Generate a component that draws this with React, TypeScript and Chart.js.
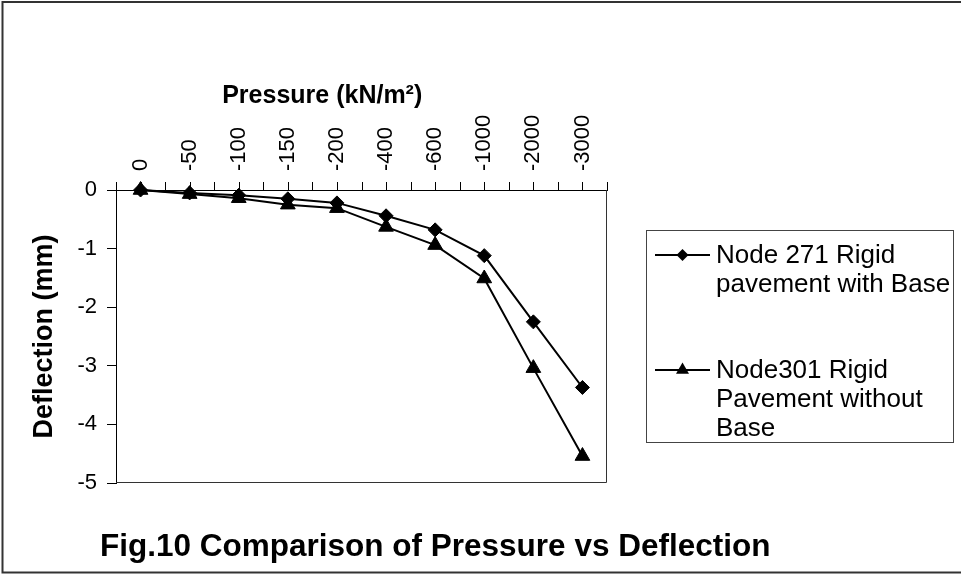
import { useEffect, useRef } from 'react';
import { Chart, registerables } from 'chart.js';

Chart.register(...registerables);

const pressures = ['0', '-50', '-100', '-150', '-200', '-400', '-600', '-1000', '-2000', '-3000'];
const node271 = [0, -0.05, -0.09, -0.15, -0.22, -0.44, -0.68, -1.12, -2.25, -3.37];
const node301 = [0, -0.07, -0.14, -0.25, -0.31, -0.63, -0.94, -1.51, -3.04, -4.54];
const legendLines = [
  ['Node 271 Rigid', 'pavement with Base'],
  ['Node301 Rigid', 'Pavement without', 'Base'],
];
const pointStyles = ['rectRot', 'triangle'];
const xTitle = 'Pressure (kN/m²)';
const yTitle = 'Deflection (mm)';
const figTitle = 'Fig.10 Comparison of Pressure vs Deflection';

const FONT = "'Liberation Sans', Arial, sans-serif";
const X_TICK_SIZE = 22;

function drawMarker(ctx: CanvasRenderingContext2D, style: string, x: number, y: number, r: number) {
  ctx.beginPath();
  if (style === 'rectRot') {
    ctx.moveTo(x, y - r);
    ctx.lineTo(x + r, y);
    ctx.lineTo(x, y + r);
    ctx.lineTo(x - r, y);
  } else {
    for (let k = 0; k < 3; k++) {
      const a = (k * 2 * Math.PI) / 3;
      const px = x + Math.sin(a) * r;
      const py = y - Math.cos(a) * r;
      if (k === 0) ctx.moveTo(px, py);
      else ctx.lineTo(px, py);
    }
  }
  ctx.closePath();
  ctx.fillStyle = '#000';
  ctx.fill();
}

const decor = {
  id: 'decor',
  beforeDatasetsDraw(chart: any) {
    const { ctx, chartArea: a } = chart;
    const xs = chart.scales.x;
    ctx.save();
    ctx.strokeStyle = '#333';
    ctx.lineWidth = 1;
    ctx.beginPath();
    ctx.moveTo(a.right - 0.5, a.top);
    ctx.lineTo(a.right - 0.5, a.bottom - 0.5);
    ctx.lineTo(a.left, a.bottom - 0.5);
    ctx.stroke();
    // top-axis tick marks at every category centre and boundary
    ctx.strokeStyle = '#000';
    ctx.beginPath();
    for (let v = xs.min; v <= xs.max + 1e-9; v += 0.5) {
      const px = Math.round(xs.getPixelForValue(v)) + 0.5;
      ctx.moveTo(px, a.top - 8);
      ctx.lineTo(px, a.top);
    }
    ctx.stroke();
    ctx.restore();
  },
  afterDraw(chart: any) {
    const { ctx, chartArea: a } = chart;
    ctx.save();
    // outer frame
    ctx.strokeStyle = '#333';
    ctx.lineWidth = 2;
    ctx.strokeRect(2.5, 2, 1000, 570.5);

    // x axis title
    ctx.fillStyle = '#000';
    ctx.font = `bold 25px ${FONT}`;
    ctx.textAlign = 'center';
    ctx.textBaseline = 'alphabetic';
    ctx.fillText(xTitle, a.left + (a.right - a.left) * 0.42, 103);

    // figure caption
    ctx.font = `bold 31.5px ${FONT}`;
    ctx.textAlign = 'left';
    ctx.fillText(figTitle, 100, 556);

    // legend
    const bx = 646.5, by = 230.5, bw = 307, bh = 212;
    ctx.strokeStyle = '#444';
    ctx.lineWidth = 1;
    ctx.strokeRect(bx, by, bw, bh);
    ctx.font = `26px ${FONT}`;
    const firstBaselines = [263, 378];
    const lh = 29;
    legendLines.forEach((lines, i) => {
      const base = firstBaselines[i];
      const my = base - 8;
      ctx.strokeStyle = '#000';
      ctx.lineWidth = 2;
      ctx.beginPath();
      ctx.moveTo(655, my);
      ctx.lineTo(710, my);
      ctx.stroke();
      drawMarker(ctx, pointStyles[i], 682.5, my, i === 0 ? 6 : 7.5);
      ctx.fillStyle = '#000';
      lines.forEach((t, j) => ctx.fillText(t, 716, base + j * lh));
    });
    ctx.restore();
  },
};

export default function App() {
  const ref = useRef<HTMLCanvasElement | null>(null);
  useEffect(() => {
    if (!ref.current) return;
    const mk = (vals: number[], i: number) => ({
      label: legendLines[i].join(' '),
      data: vals.map((y, k) => ({ x: k, y })),
      borderColor: '#000',
      backgroundColor: '#000',
      borderWidth: 2,
      pointStyle: pointStyles[i],
      pointRadius: i === 0 ? 7 : 8.5,
      pointBorderWidth: 1,
      pointBackgroundColor: '#000',
      tension: 0,
      clip: false as any,
    });
    const chart = new Chart(ref.current, {
      type: 'line',
      data: { datasets: [mk(node271, 0), mk(node301, 1)] as any },
      options: {
        responsive: false,
        animation: false,
        devicePixelRatio: 1,
        layout: { padding: { left: 0, top: 0, right: 354, bottom: 92 } },
        plugins: { legend: { display: false }, tooltip: { enabled: false }, title: { display: false } },
        scales: {
          x: {
            type: 'linear',
            position: 'top',
            min: -0.5,
            max: 9.5,
            afterFit: (s: any) => { s.height = 190; },
            afterBuildTicks: (s: any) => {
              s.ticks = pressures.map((_, i) => ({ value: i }));
            },
            ticks: {
              autoSkip: false,
              maxRotation: 90,
              minRotation: 90,
              padding: 19,
              labelOffset: (X_TICK_SIZE * 1.2),
              color: '#000',
              font: { family: FONT, size: X_TICK_SIZE },
              callback: (v: any) => pressures[Math.round(v)],
            },
            grid: { drawOnChartArea: false, drawTicks: false, tickLength: 8, color: '#000', lineWidth: 1 },
            border: { display: true, color: '#000', width: 1 },
          },
          y: {
            min: -5,
            max: 0,
            afterFit: (s: any) => { s.width = 116; },
            ticks: { stepSize: 1, padding: 10, color: '#000', font: { family: FONT, size: 22 } },
            grid: { drawOnChartArea: false, tickLength: 9, color: '#000', lineWidth: 1 },
            border: { display: true, color: '#000', width: 1 },
            title: {
              display: true,
              text: yTitle,
              color: '#000',
              font: { family: FONT, size: 27, weight: 'bold' },
              padding: { top: 28, bottom: 0 },
            },
          },
        },
      } as any,
      plugins: [decor],
    });
    return () => chart.destroy();
  }, []);
  return (
    <div style={{ position: 'absolute', left: 0, top: 0, width: 961, height: 575, background: '#fff' }}>
      <canvas ref={ref} width={961} height={575} style={{ display: 'block', width: 961, height: 575 }} />
    </div>
  );
}
